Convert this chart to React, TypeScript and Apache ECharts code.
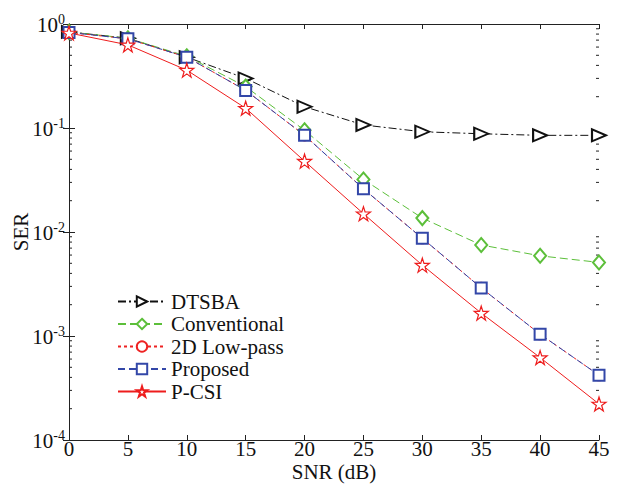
import React, { useEffect, useRef } from "react";
import * as echarts from "echarts";

const snr = [0, 5, 10, 15, 20, 25, 30, 35, 40, 45];
const dtsba = [0.84, 0.73, 0.48, 0.3, 0.16, 0.107, 0.092, 0.088, 0.085, 0.085];
const conventional = [0.84, 0.73, 0.49, 0.25, 0.095, 0.032, 0.0136, 0.0075, 0.0059, 0.0051];
const lowpass = [0.83, 0.72, 0.48, 0.23, 0.085, 0.026, 0.0087, 0.0029, 0.00104, 0.00042];
const proposed = [0.83, 0.72, 0.48, 0.23, 0.085, 0.026, 0.0087, 0.0029, 0.00104, 0.00042];
const pcsi = [0.82, 0.63, 0.36, 0.155, 0.048, 0.015, 0.0048, 0.00166, 0.00062, 0.000222];
const decades = [-4, -3, -2, -1];
const minorMultipliers = [2, 3, 4, 5, 6, 7, 8, 9];

const FONT = "Liberation Serif";
const STAR = "path://M50,2 L61,36 L97,36 L68,57 L79,92 L50,71 L21,92 L32,57 L3,36 L39,36 Z";

export default function App() {
  const ref = useRef<HTMLDivElement>(null);
  useEffect(() => {
    if (!ref.current) return;
    const chart = echarts.init(ref.current, null, { renderer: "svg" });
    const pair = (ys: number[]) => snr.map((x, i) => [x, ys[i]]);
    const minorTicks: number[][] = [];
    decades.forEach((d) => minorMultipliers.forEach((m) => minorTicks.push([0, m * Math.pow(10, d)])));
    const axisLine = { lineStyle: { color: "#222", width: 1 } };
    const option: any = {
      animation: false,
      backgroundColor: "#fff",
      grid: { left: 69, top: 24, right: 18, bottom: 46, outerBoundsMode: "none", containLabel: false },
      xAxis: [
        {
          type: "value", min: 0, max: 45, interval: 5, position: "bottom",
          axisLine: { ...axisLine, onZero: false },
          axisTick: { inside: true, length: 5, lineStyle: { color: "#222" } },
          axisLabel: { fontFamily: FONT, fontSize: 21, color: "#111", margin: 1, lineHeight: 16 },
          splitLine: { show: false },
          name: "SNR (dB)", nameLocation: "middle", nameGap: 23, nameMoveOverlap: false,
          nameTextStyle: { fontFamily: FONT, fontSize: 21, color: "#111", lineHeight: 18 },
        },
        {
          type: "value", min: 0, max: 45, interval: 5, position: "top",
          axisLine, axisTick: { inside: true, length: 5, lineStyle: { color: "#222" } },
          axisLabel: { show: false }, splitLine: { show: false },
        },
      ],
      yAxis: [
        {
          type: "log", min: 1e-4, max: 1, logBase: 10, position: "left",
          axisLine: { ...axisLine, onZero: false },
          axisTick: { inside: true, length: 6, lineStyle: { color: "#222" } },
          splitLine: { show: false },
          axisLabel: {
            margin: 4, color: "#111",
            formatter: (v: number) => `{b|10}{s|${Math.round(Math.log10(v))}}`,
            rich: {
              b: { fontFamily: FONT, fontSize: 21, color: "#111", verticalAlign: "bottom" },
              s: { fontFamily: FONT, fontSize: 14, color: "#111", verticalAlign: "bottom", padding: [0, 0, 9, 0] },
            },
          },
          name: "SER", nameLocation: "middle", nameGap: 38, nameMoveOverlap: false,
          nameTextStyle: { fontFamily: FONT, fontSize: 21, color: "#111" },
        },
        {
          type: "log", min: 1e-4, max: 1, logBase: 10, position: "right",
          axisLine, axisTick: { inside: true, length: 6, lineStyle: { color: "#222" } },
          axisLabel: { show: false }, splitLine: { show: false },
        },
      ],
      legend: {
        orient: "vertical", left: 117, top: 291, padding: 0,
        itemWidth: 48, itemHeight: 13, itemGap: 1.5,
        symbolRotate: "inherit",
        textStyle: { fontFamily: FONT, fontSize: 21, color: "#111", lineHeight: 21, padding: [0, 0, 0, 0] },
        data: ["DTSBA", "Conventional", "2D Low-pass", "Proposed", "P-CSI"],
      },
      series: [
        {
          name: "minorTicks", type: "custom", silent: true, xAxisIndex: 0, yAxisIndex: 0,
          data: minorTicks,
          renderItem: (params: any, api: any) => {
            const v = api.value(1);
            const l = api.coord([0, v]);
            const r = api.coord([45, v]);
            return {
              type: "group",
              children: [
                { type: "line", shape: { x1: l[0], y1: l[1], x2: l[0] + 3, y2: l[1] }, style: { stroke: "#222", lineWidth: 1 } },
                { type: "line", shape: { x1: r[0], y1: r[1], x2: r[0] - 3, y2: r[1] }, style: { stroke: "#222", lineWidth: 1 } },
              ],
            };
          },
        },
        {
          name: "DTSBA", type: "line", data: pair(dtsba), symbol: "emptyTriangle", symbolSize: [12, 14], symbolRotate: -90,
          lineStyle: { color: "#111", width: 1, type: [8, 3, 2, 3] },
          itemStyle: { color: "#111", borderColor: "#111", borderWidth: 1 },
        },
        {
          name: "Conventional", type: "line", data: pair(conventional), symbol: "emptyDiamond", symbolSize: [12, 14],
          lineStyle: { color: "#5cbf3a", width: 1, type: [8, 4] },
          itemStyle: { color: "#5cbf3a", borderColor: "#5cbf3a", borderWidth: 1 },
        },
        {
          name: "2D Low-pass", type: "line", data: pair(lowpass), symbol: "emptyCircle", symbolSize: 10,
          lineStyle: { color: "#ee2222", width: 1, type: [3, 3] },
          itemStyle: { color: "#ee2222", borderColor: "#ee2222", borderWidth: 1 },
        },
        {
          name: "Proposed", type: "line", data: pair(proposed), symbol: "emptyRect", symbolSize: 11,
          lineStyle: { color: "#3347a8", width: 1, type: [7, 4] },
          itemStyle: { color: "#3347a8", borderColor: "#3347a8", borderWidth: 1 },
        },
        {
          name: "P-CSI", type: "line", data: pair(pcsi), symbol: STAR, symbolSize: 14,
          lineStyle: { color: "#ee1c1c", width: 1, type: "solid" },
          itemStyle: { color: "#fff", borderColor: "#ee1c1c", borderWidth: 1.2 },
        },
      ],
    };
    chart.setOption(option);
    return () => chart.dispose();
  }, []);
  return <div ref={ref} style={{ position: "absolute", left: 0, top: 0, width: 617, height: 486, background: "#fff" }} />;
}
